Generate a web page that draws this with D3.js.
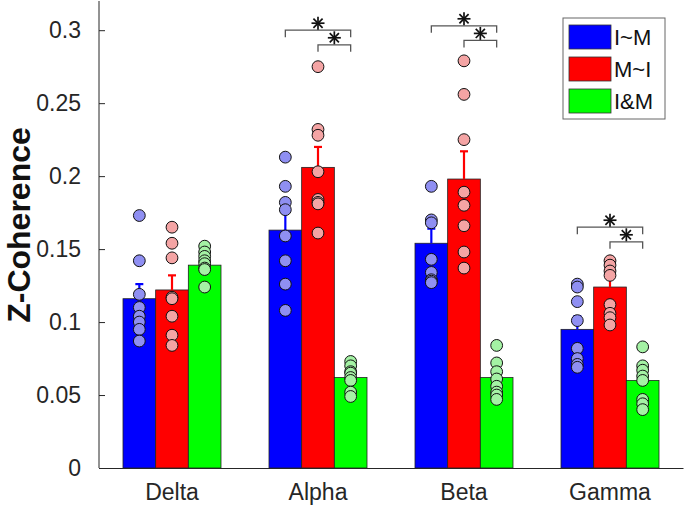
<!DOCTYPE html>
<html>
<head>
<meta charset="utf-8">
<script src="https://cdn.jsdelivr.net/npm/d3@7"></script>
<style>
  body { margin: 0; background: #fff; }
  svg { display: block; font-family: "Liberation Sans", Arial, sans-serif; }
</style>
</head>
<body>
<svg width="685" height="513"></svg>
<script>
// bands and groups
var categories = ["Delta", "Alpha", "Beta", "Gamma"];
var seriesNames = ["I~M", "M~I", "I&M"];
var yTicks = [0, 0.05, 0.1, 0.15, 0.2, 0.25, 0.3];

// bar heights (mean) per series
var imMean  = [0.116, 0.163, 0.154, 0.095];
var miMean  = [0.122, 0.206, 0.198, 0.124];
var andMean = [0.139, 0.062, 0.062, 0.060];

// standard errors (drawn upward only)
var imErr  = [0.010, 0.013, 0.010, 0.009];
var miErr  = [0.010, 0.014, 0.019, 0.007];
var andErr = [0.003, 0.004, 0.004, 0.005];

// individual subjects, one list per band
var imPts = [
  [0.173, 0.142, 0.119, 0.110, 0.104, 0.100, 0.095, 0.087],
  [0.213, 0.193, 0.182, 0.177, 0.159, 0.142, 0.126, 0.108],
  [0.193, 0.170, 0.168, 0.143, 0.134, 0.129, 0.128, 0.127],
  [0.126, 0.124, 0.114, 0.101, 0.082, 0.075, 0.071, 0.069]
];
var miPts = [
  [0.165, 0.154, 0.144, 0.117, 0.116, 0.104, 0.091, 0.084],
  [0.275, 0.232, 0.228, 0.203, 0.184, 0.182, 0.181, 0.161],
  [0.279, 0.256, 0.225, 0.189, 0.180, 0.166, 0.148, 0.137],
  [0.142, 0.139, 0.135, 0.132, 0.112, 0.106, 0.103, 0.098]
];
var andPts = [
  [0.152, 0.148, 0.145, 0.142, 0.140, 0.137, 0.136, 0.124],
  [0.073, 0.070, 0.066, 0.065, 0.062, 0.060, 0.052, 0.049],
  [0.084, 0.072, 0.066, 0.061, 0.056, 0.052, 0.050, 0.047],
  [0.083, 0.070, 0.067, 0.063, 0.060, 0.047, 0.044, 0.040]
];

// significance brackets: band, from-series, to-series, height
var sigBand  = ["Alpha", "Alpha", "Beta", "Beta", "Gamma", "Gamma"];
var sigFrom  = [0, 1, 0, 1, 0, 1];
var sigTo    = [2, 2, 2, 2, 2, 2];
var sigLevel = [0.300, 0.290, 0.303, 0.293, 0.165, 0.155];

var barColors = ["#0000ff", "#ff0000", "#00ff00"];
var dotColors = ["#8f8ff2", "#f4a4a4", "#a4f2a4"];

var means = [imMean, miMean, andMean];
var errs = [imErr, miErr, andErr];
var pts = [imPts, miPts, andPts];

var svg = d3.select("svg");
var pLeft = 99, pRight = 683, pBottom = 468, pTop = 1;

var x = d3.scaleBand().domain(categories).range([pLeft, pRight]);
var xs = d3.scaleBand().domain(d3.range(3)).range([24, 122]);
var y = d3.scaleLinear().domain([0, 0.32]).range([pBottom, pTop]);

function cx(c, s) { return x(c) + xs(s) + xs.bandwidth() / 2; }

// flatten into rows for binding
var rows = [];
categories.forEach(function (c, i) {
  for (var s = 0; s < 3; s++) {
    rows.push({ cat: c, s: s, mean: means[s][i], err: errs[s][i], pts: pts[s][i] });
  }
});

// bars
svg.append("g").selectAll("rect")
  .data(rows)
  .enter().append("rect")
  .attr("x", function (d) { return x(d.cat) + xs(d.s); })
  .attr("y", function (d) { return y(d.mean); })
  .attr("width", xs.bandwidth())
  .attr("height", function (d) { return y(0) - y(d.mean); })
  .attr("fill", function (d) { return barColors[d.s]; })
  .attr("stroke", "#222")
  .attr("stroke-width", 0.8);

// error bars
var eb = svg.append("g").selectAll("g")
  .data(rows)
  .enter().append("g")
  .attr("stroke", function (d) { return barColors[d.s]; })
  .attr("stroke-width", 2.2);
eb.append("line")
  .attr("x1", function (d) { return cx(d.cat, d.s); })
  .attr("x2", function (d) { return cx(d.cat, d.s); })
  .attr("y1", function (d) { return y(d.mean); })
  .attr("y2", function (d) { return y(d.mean + d.err); });
eb.append("line")
  .attr("x1", function (d) { return cx(d.cat, d.s) - 4; })
  .attr("x2", function (d) { return cx(d.cat, d.s) + 4; })
  .attr("y1", function (d) { return y(d.mean + d.err); })
  .attr("y2", function (d) { return y(d.mean + d.err); });

// subject dots
rows.forEach(function (r) {
  svg.append("g").selectAll("circle")
    .data(r.pts)
    .enter().append("circle")
    .attr("cx", cx(r.cat, r.s))
    .attr("cy", function (v) { return y(v); })
    .attr("r", 5.9)
    .attr("fill", dotColors[r.s])
    .attr("stroke", "#111")
    .attr("stroke-width", 1);
});

// axes
var yAxis = svg.append("g")
  .attr("transform", "translate(" + pLeft + ",0)")
  .call(d3.axisLeft(y).tickValues(yTicks).tickSize(-6).tickPadding(18)
    .tickFormat(function (d) { return d === 0 ? "0" : String(d); }));
yAxis.select(".domain").attr("d", "M0," + pTop + "V" + pBottom);
yAxis.selectAll("line, path").attr("stroke", "#262626");
yAxis.selectAll("text").attr("font-size", 23).attr("fill", "#262626");

var xAxis = svg.append("g")
  .attr("transform", "translate(0," + pBottom + ")")
  .call(d3.axisBottom(x).tickSize(0).tickPadding(16));
xAxis.select(".domain").attr("stroke", "#262626");
xAxis.selectAll("text").attr("font-size", 23).attr("fill", "#262626");

svg.append("text")
  .attr("transform", "translate(30,225) rotate(-90)")
  .attr("text-anchor", "middle")
  .attr("font-size", 32)
  .attr("font-weight", "bold")
  .attr("fill", "#111")
  .text("Z-Coherence");

// significance brackets with asterisks
var sig = sigBand.map(function (b, i) {
  return { x1: cx(b, sigFrom[i]), x2: cx(b, sigTo[i]), yy: y(sigLevel[i]) };
});
svg.append("g").selectAll("path")
  .data(sig)
  .enter().append("path")
  .attr("d", function (d) {
    return "M" + d.x1 + "," + (d.yy + 7) + "V" + d.yy + "H" + d.x2 + "V" + (d.yy + 7);
  })
  .attr("fill", "none")
  .attr("stroke", "#555")
  .attr("stroke-width", 1.3);

var star = svg.append("g").selectAll("g")
  .data(sig)
  .enter().append("g")
  .attr("transform", function (d) { return "translate(" + (d.x1 + d.x2) / 2 + "," + (d.yy - 7) + ")"; })
  .attr("stroke", "#111")
  .attr("stroke-width", 1.7);
[0, 45, 90, 135].forEach(function (a) {
  var r = 6.5, t = a * Math.PI / 180;
  star.append("line")
    .attr("x1", -r * Math.cos(t)).attr("y1", -r * Math.sin(t))
    .attr("x2", r * Math.cos(t)).attr("y2", r * Math.sin(t));
});

// legend
var lg = svg.append("g").attr("transform", "translate(563,18)");
lg.append("rect").attr("width", 102).attr("height", 101)
  .attr("fill", "#fff").attr("stroke", "#666").attr("stroke-width", 1);
var li = lg.selectAll("g.item")
  .data(seriesNames)
  .enter().append("g")
  .attr("class", "item")
  .attr("transform", function (d, i) { return "translate(6," + (7 + i * 32) + ")"; });
li.append("rect").attr("width", 42).attr("height", 24)
  .attr("fill", function (d, i) { return barColors[i]; })
  .attr("stroke", "#333").attr("stroke-width", 0.8);
li.append("text").attr("x", 45).attr("y", 20)
  .attr("font-size", 22).attr("fill", "#111")
  .text(function (d) { return d; });
</script>
</body>
</html>
